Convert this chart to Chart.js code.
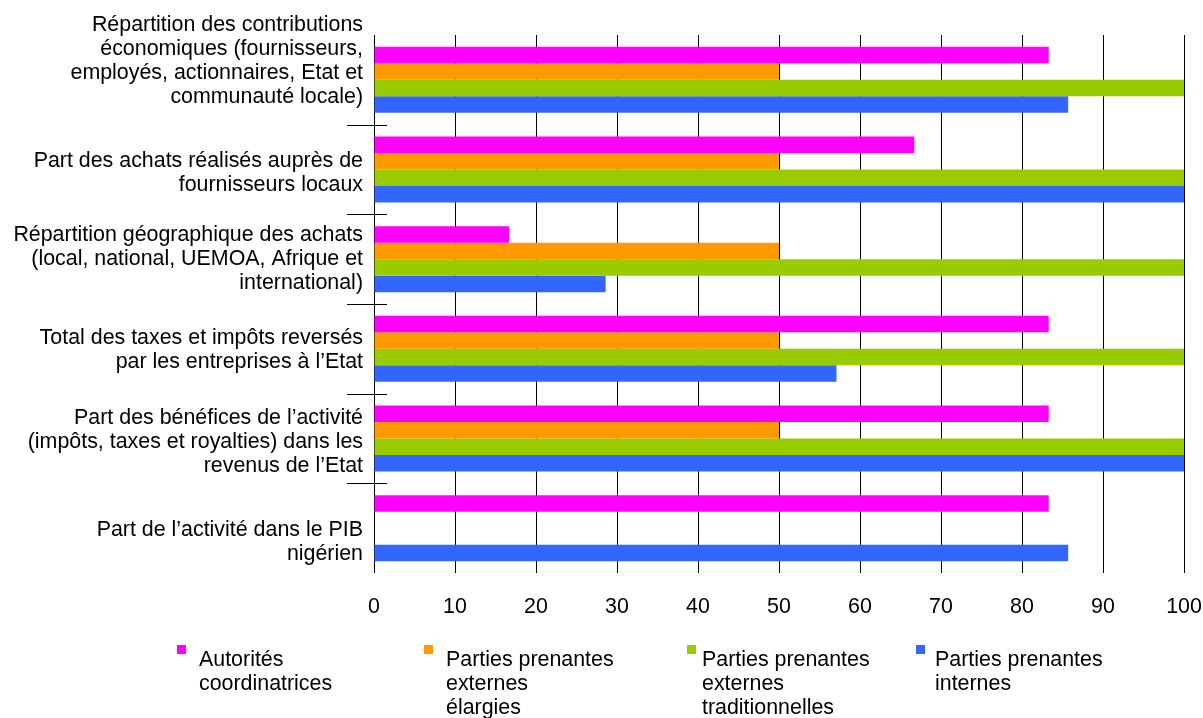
<!DOCTYPE html>
<html lang="fr">
<head>
<meta charset="utf-8">
<title>Contributions économiques — avis des parties prenantes</title>
<script src="https://cdn.jsdelivr.net/npm/chart.js@4.4.1/dist/chart.umd.min.js"></script>
<style>
  html, body { margin: 0; padding: 0; background: #fff; }
  #wrap { position: relative; width: 1203px; height: 718px; }
  #chart { position: absolute; left: 0; top: 0; }
  .leg { position: absolute; top: 647px; font: 21.4px "Liberation Sans", Arial, sans-serif; line-height: 24px; color: #000; }
  .leg i { position: absolute; top: -2px; width: 9px; height: 9px; }
</style>
</head>
<body>
<div id="wrap">
  <canvas id="chart" width="1203" height="718"></canvas>
  <div id="legend"></div>
</div>
<script>
// Indicateurs (lignes du libellé, de haut en bas)
const categories = [
  ['Répartition des contributions', 'économiques (fournisseurs,', 'employés, actionnaires, Etat et', 'communauté locale)'],
  ['Part des achats réalisés auprès de', 'fournisseurs locaux'],
  ['Répartition géographique des achats', '(local, national, UEMOA, Afrique et', 'international)'],
  ['Total des taxes et impôts reversés', 'par les entreprises à l’Etat'],
  ['Part des bénéfices de l’activité', '(impôts, taxes et royalties) dans les', 'revenus de l’Etat'],
  ['Part de l’activité dans le PIB', 'nigérien']
];

const seriesNames = [
  ['Autorités', 'coordinatrices'],
  ['Parties prenantes', 'externes', 'élargies'],
  ['Parties prenantes', 'externes', 'traditionnelles'],
  ['Parties prenantes', 'internes']
];

// % de répondants
const autorites     = [83.3, 66.7, 16.7, 83.3, 83.3, 83.3];
const externesLarge = [50, 50, 50, 50, 50, null];
const externesTrad  = [100, 100, 100, 100, 100, null];
const internes      = [85.7, 100, 28.6, 57.1, 100, 85.7];

const xTicks = [0, 10, 20, 30, 40, 50, 60, 70, 80, 90, 100];

const COLORS = ['#ff00ff', '#ff9900', '#99cc00', '#3366ff'];
const FONT = '"Liberation Sans", Arial, sans-serif';
const FONT_SIZE = 21.4;

// petits décalages verticaux des libellés de catégorie
const labelNudge = [-19, 3.5, 0, 1.5, 4, 14];

const categoryLabels = {
  id: 'categoryLabels',
  afterDraw(chart) {
    const { ctx, chartArea } = chart;
    const y = chart.scales.y;
    ctx.save();
    ctx.font = FONT_SIZE + 'px ' + FONT;
    ctx.fillStyle = '#000';
    ctx.textAlign = 'right';
    ctx.textBaseline = 'middle';
    categories.forEach((lines, i) => {
      const cy = y.getPixelForValue(i) + labelNudge[i];
      const y0 = cy - (lines.length - 1) * 24 / 2;
      lines.forEach((t, k) => ctx.fillText(t, chartArea.left - 11, y0 + k * 24));
    });
    // séparateurs entre catégories
    ctx.strokeStyle = '#000';
    ctx.lineWidth = 1;
    for (let i = 1; i < categories.length; i++) {
      const sy = Math.round((y.getPixelForValue(i - 1) + y.getPixelForValue(i)) / 2) + 0.5;
      ctx.beginPath();
      ctx.moveTo(chartArea.left - 27, sy);
      ctx.lineTo(chartArea.left + 13, sy);
      ctx.stroke();
    }
    ctx.restore();
  }
};

const data = {
  labels: categories.map(l => l.join(' ')),
  datasets: [autorites, externesLarge, externesTrad, internes].map((d, i) => ({
    label: seriesNames[i].join(' '),
    data: d,
    backgroundColor: COLORS[i],
    borderWidth: 0,
    categoryPercentage: 0.736,
    barPercentage: 1
  }))
};

new Chart(document.getElementById('chart'), {
  type: 'bar',
  data,
  plugins: [categoryLabels],
  options: {
    indexAxis: 'y',
    responsive: false,
    animation: false,
    layout: { padding: { left: 0, right: 0, top: 35, bottom: 0 } },
    plugins: { legend: { display: false }, tooltip: { enabled: false } },
    scales: {
      x: {
        min: 0, max: 100,
        afterBuildTicks: s => { s.ticks = xTicks.map(v => ({ value: v })); },
        afterFit: s => { s.height = 145; s.paddingLeft = 0; s.paddingRight = 19; },
        grid: { color: '#000', lineWidth: 1, drawTicks: false },
        border: { display: false },
        ticks: { color: '#000', font: { family: FONT, size: FONT_SIZE }, padding: 21 }
      },
      y: {
        afterFit: s => { s.width = 374; },
        grid: { display: false },
        border: { display: false },
        ticks: { display: false }
      }
    }
  }
});

// légende en HTML (libellés sur plusieurs lignes)
const legendPos = [[177, 199], [424, 446], [687, 702], [916, 935]];
document.getElementById('legend').innerHTML = seriesNames.map((lines, i) => {
  const [sx, tx] = legendPos[i];
  return `<div class="leg" style="left:${tx}px"><i style="left:${sx - tx}px;background:${COLORS[i]}"></i>${lines.join('<br>')}</div>`;
}).join('');
</script>
</body>
</html>
